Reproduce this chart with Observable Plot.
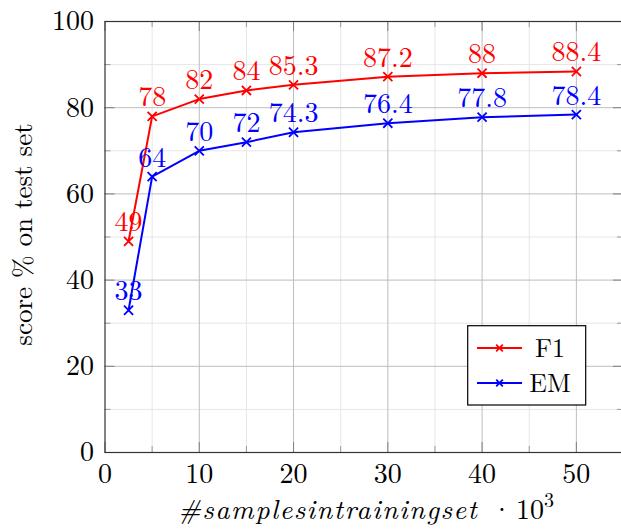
<!DOCTYPE html>
<html>
<head>
<meta charset="utf-8">
<script src="https://cdn.jsdelivr.net/npm/d3@7"></script>
<script src="https://cdn.jsdelivr.net/npm/@observablehq/plot@0.6"></script>
<style>
  html, body { margin: 0; padding: 0; background: #fff; }
  #chart { position: relative; width: 621px; height: 529px; }
  #chart svg, #chart svg text, #chart svg tspan { font-family: 'Latin Modern Roman', 'CMU Serif', 'Liberation Serif', serif !important; }
</style>
</head>
<body>
<div id="chart"></div>
<script>
// ---- data ----
const samples = [2.5, 5, 10, 15, 20, 30, 40, 50];
const f1 = [49, 78, 82, 84, 85.3, 87.2, 88, 88.4];
const em = [33, 64, 70, 72, 74.3, 76.4, 77.8, 78.4];
const seriesNames = ["F1", "EM"];
const seriesColors = ["#ff0000", "#0000ff"];
const xMajorTicks = [0, 10, 20, 30, 40, 50];
const xMinorTicks = [5, 15, 25, 35, 45, 55];
const yMajorTicks = [0, 20, 40, 60, 80, 100];
const yMinorTicks = [10, 30, 50, 70, 90];

const rows = [];
samples.forEach((s, i) => {
  rows.push({series: "F1", x: s, y: f1[i]});
  rows.push({series: "EM", x: s, y: em[i]});
});

const W = 621, H = 529;
const mL = 104.5, mT = 21, mB = 77, mR = -2;
const frameH = H - mT - mB;
const frameW = W - mL - mR;
const FS = 28;
const majLen = 10, minLen = 6;

const chart = Plot.plot({
  width: W, height: H,
  marginLeft: mL, marginTop: mT, marginBottom: mB, marginRight: mR,
  style: {fontSize: FS + "px", background: "#fff", overflow: "visible"},
  x: {domain: [0, 55], label: null},
  y: {domain: [0, 100], label: null},
  color: {domain: seriesNames, range: seriesColors},
  marks: [
    // minor grid
    Plot.ruleX(xMinorTicks, {stroke: "#e6e6e6", strokeWidth: 1}),
    Plot.ruleY(yMinorTicks, {stroke: "#e6e6e6", strokeWidth: 1}),
    // major grid
    Plot.ruleX(xMajorTicks.slice(1), {stroke: "#bdbdbd", strokeWidth: 1}),
    Plot.ruleY(yMajorTicks.slice(1, -1), {stroke: "#bdbdbd", strokeWidth: 1}),
    // inward ticks
    Plot.tickX(xMajorTicks, {stroke: "#808080", insetTop: frameH - majLen}),
    Plot.tickX(xMajorTicks, {stroke: "#808080", insetBottom: frameH - majLen}),
    Plot.tickX(xMinorTicks, {stroke: "#9a9a9a", insetTop: frameH - minLen}),
    Plot.tickX(xMinorTicks, {stroke: "#9a9a9a", insetBottom: frameH - minLen}),
    Plot.tickY(yMajorTicks, {stroke: "#808080", insetRight: frameW - majLen}),
    Plot.tickY(yMajorTicks, {stroke: "#808080", insetLeft: frameW - majLen}),
    Plot.tickY(yMinorTicks, {stroke: "#9a9a9a", insetRight: frameW - minLen}),
    Plot.tickY(yMinorTicks, {stroke: "#9a9a9a", insetLeft: frameW - minLen}),
    Plot.frame({stroke: "#333", strokeWidth: 1.2}),
    // axes labels
    Plot.axisX({ticks: xMajorTicks, tickSize: 0, tickPadding: 11, fontSize: FS, fill: "#000", label: null}),
    Plot.axisY({ticks: yMajorTicks, tickSize: 0, tickPadding: 11, fontSize: FS, fill: "#000", label: null}),
    // series
    Plot.line(rows, {x: "x", y: "y", z: "series", stroke: "series", strokeWidth: 2}),
    Plot.dot(rows, {x: "x", y: "y", stroke: "series", symbol: "times", r: 4.2, strokeWidth: 1.8}),
    Plot.text(rows, {x: "x", y: "y", text: d => String(d.y), fill: "series", fontSize: FS,
      textAnchor: "middle", lineAnchor: "bottom", dy: -10})
  ]
});

const svg = d3.select(chart);
// y-axis label
svg.append("text")
  .attr("transform", "translate(32," + (mT + frameH / 2 - 2) + ") rotate(-90)")
  .attr("text-anchor", "middle")
  .attr("font-size", 27).attr("fill", "#000")
  .text("score % on test set");
// x-axis label
const xl = svg.append("text")
  .attr("x", 178).attr("y", 519)
  .attr("text-anchor", "start")
  .attr("font-size", 28).attr("fill", "#000");
xl.append("tspan").attr("font-style", "italic").attr("letter-spacing", 1.4).text("#samplesintrainingset");
xl.append("tspan").attr("x", 491).text("\u00b7");
xl.append("tspan").attr("x", 516).text("10");
xl.append("tspan").attr("font-size", 20).attr("dy", -12).text("3");

// legend
const lg = svg.append("g");
lg.append("rect").attr("x", 467.7).attr("y", 325.7).attr("width", 118).attr("height", 79.3)
  .attr("fill", "#fff").attr("stroke", "#000").attr("stroke-width", 1.2);
seriesNames.forEach((name, i) => {
  const cy = 348 + i * 35;
  lg.append("line").attr("x1", 477).attr("x2", 522).attr("y1", cy).attr("y2", cy)
    .attr("stroke", seriesColors[i]).attr("stroke-width", 2);
  lg.append("path").attr("d", "M-3.3,-3.3L3.3,3.3M-3.3,3.3L3.3,-3.3")
    .attr("transform", "translate(499.5," + cy + ")")
    .attr("stroke", seriesColors[i]).attr("stroke-width", 1.8).attr("fill", "none");
  lg.append("text").attr("x", 550).attr("y", cy + 9)
    .attr("text-anchor", "middle")
    .attr("font-size", 26).attr("fill", "#000")
    .text(name);
});

document.getElementById("chart").appendChild(chart);
</script>
</body>
</html>
